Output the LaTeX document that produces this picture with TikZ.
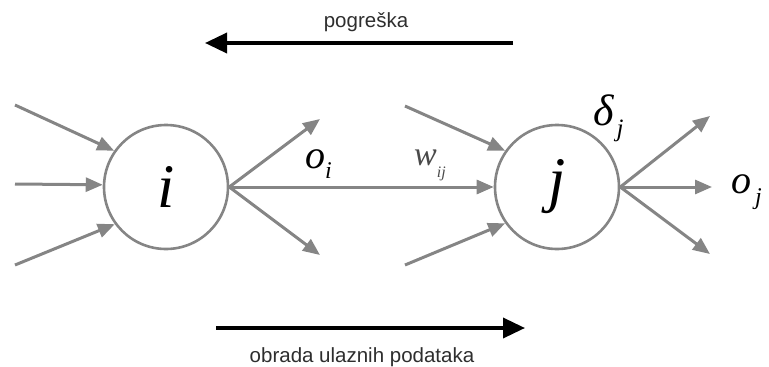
\documentclass[tikz,border=0pt]{standalone}
\usepackage{fontspec}
\setmainfont{Liberation Sans}
\newfontfamily\lserif{Liberation Serif}
\usetikzlibrary{arrows.meta}

\definecolor{linegray}{HTML}{858585}
\definecolor{textgray}{HTML}{2e2e2e}
\definecolor{weightgray}{HTML}{4a4a4a}

\begin{document}
\begin{tikzpicture}[x=1pt,y=-1pt,
  neuron/.style={circle, draw=linegray, line width=2.6pt, minimum size=124pt,
    inner sep=0pt, font=\lserif\itshape\fontsize{62}{62}\selectfont},
  link/.style={draw=linegray, line width=3pt,
    -{Triangle[length=17pt,width=14pt]}},
  flow/.style={draw=black, line width=3.6pt,
    -{Triangle[length=22pt,width=20pt]}},
  caption/.style={font=\fontsize{20.5}{24}\selectfont, text=textgray,
    inner sep=0pt, anchor=base},
  sym/.style={inner sep=0pt, anchor=base west},
  big/.style={font=\lserif\itshape\fontsize{#1}{#1}\selectfont}
]
\useasboundingbox (0,0) rectangle (769,367);

% neurons
\node[neuron] (i) at (166,187) {i};
\node[neuron] (j) at (557,187) {j};

% inputs of neuron i
\coordinate (ia) at (15,105);
\coordinate (ib) at (15,184);
\coordinate (ic) at (15,265);
\draw[link] (ia) -- (i.145);
\draw[link] (ib) -- (i.178);
\draw[link] (ic) -- (i.216);

% outputs of neuron i
\coordinate (oa) at (320,119);
\coordinate (oc) at (320,255);
\draw[link] (i.east) -- (oa);
\draw[link] (i.east) -- (oc);
\draw[link] (i.east) -- (j.west);

% other inputs of neuron j
\coordinate (ja) at (405,106);
\coordinate (jc) at (405,265);
\draw[link] (ja) -- (j.145);
\draw[link] (jc) -- (j.215);

% outputs of neuron j
\coordinate (pa) at (710,116);
\coordinate (pb) at (712,187);
\coordinate (pc) at (710,254);
\draw[link] (j.east) -- (pa);
\draw[link] (j.east) -- (pb);
\draw[link] (j.east) -- (pc);

% symbols
\node[sym, big=40] (oi) at (305,168) {o\raisebox{-10pt}{\fontsize{24}{24}\selectfont i}};
\node[sym, big=34, text=weightgray] (wij) at (414,165) {w\raisebox{-12pt}{\fontsize{16}{16}\selectfont ij}};
\node[sym, big=44] (dj) at (593,125) {δ\raisebox{-11pt}{\hspace{3pt}\fontsize{25}{25}\selectfont j}};
\node[sym, big=40] (oj) at (731,193) {o\raisebox{-11pt}{\hspace{4pt}\fontsize{24}{24}\selectfont j}};

% error and forward-pass directions
\coordinate (ea) at (513,43);
\coordinate (eb) at (205,43);
\draw[flow] (ea) -- (eb);
\node[caption] (err) at (366,27) {pogreška};

\coordinate (fa) at (216,328);
\coordinate (fb) at (525,328);
\draw[flow] (fa) -- (fb);
\node[caption] (fwd) at (362,362) {obrada ulaznih podataka};
\end{tikzpicture}
\end{document}
